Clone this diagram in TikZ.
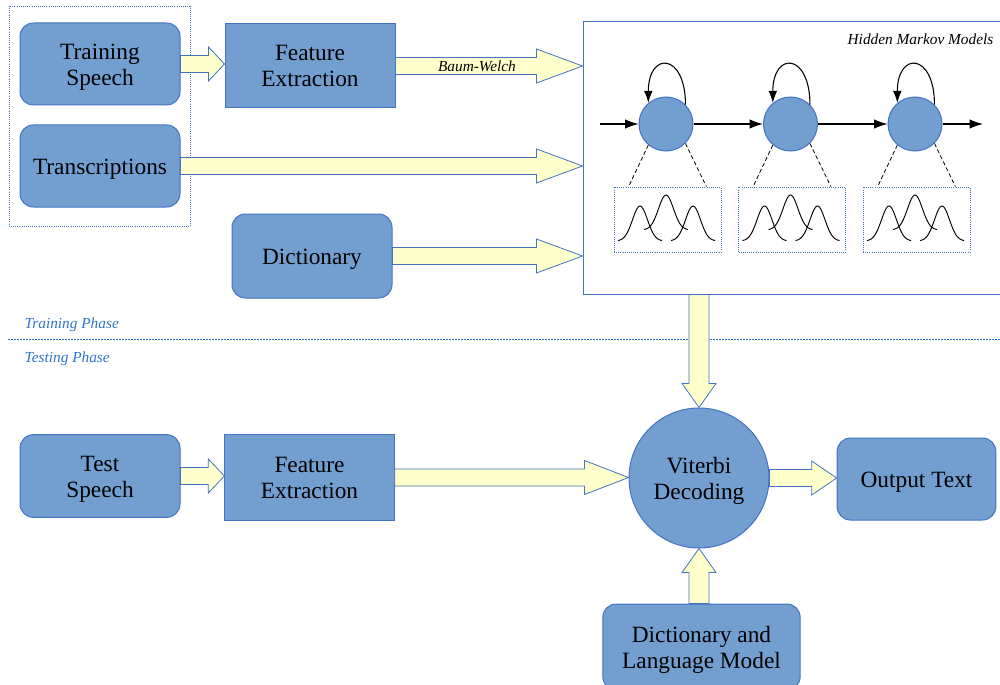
\documentclass[tikz,border=0pt]{standalone}
\usepackage{fontspec}
\setmainfont{Liberation Serif}
\usetikzlibrary{
    arrows.meta,
    calc,
    positioning
}
\definecolor{boxblue}{HTML}{729FCF}
\definecolor{lineblue}{HTML}{4472C4}
\definecolor{padyellow}{HTML}{FFFFCC}
\definecolor{phaseblue}{HTML}{2E75C6}

\tikzset{
    blk/.style={draw=lineblue, fill=boxblue, line width=0.75pt, align=center,
        inner sep=0pt, font=\fontsize{17.5}{19.5}\selectfont},
    rblk/.style={blk, rounded corners=10pt},
    fat/.style={draw=lineblue, fill=padyellow, line width=0.6pt},
    state/.style={circle, draw=lineblue, fill=boxblue, line width=0.75pt,
        minimum size=40.5pt, inner sep=0pt},
    gbox/.style={draw=lineblue, densely dotted, line width=0.6pt,
        minimum width=80.25pt, minimum height=48.75pt},
    note/.style={font=\fontsize{11.5}{13}\selectfont\itshape},
    stx/.style={-{Latex[length=10pt,width=7pt]}, line width=0.8pt}
}

% pushes a box text down a little
\newcommand{\up}{\rule{0pt}{16.5pt}}
% block arrows, head length in px
\newcommand{\fatx}[3]{%
    \draw[fat] let \p1=#1, \p2=#2 in
    (\x1,\y1+6.4pt) -- (\x2-#3*0.75pt,\y1+6.4pt) -- (\x2-#3*0.75pt,\y1+12.75pt)
    -- (\x2,\y1) -- (\x2-#3*0.75pt,\y1-12.75pt) -- (\x2-#3*0.75pt,\y1-6.4pt)
    -- (\x1,\y1-6.4pt) -- cycle;}
\newcommand{\faty}[3]{%
    \draw[fat] let \p1=#1, \p2=#2 in
    (\x1-7.5pt,\y1) -- (\x1-7.5pt,\y2+#3*0.75pt) -- (\x1-12.75pt,\y2+#3*0.75pt)
    -- (\x1,\y2) -- (\x1+12.75pt,\y2+#3*0.75pt) -- (\x1+7.5pt,\y2+#3*0.75pt)
    -- (\x1+7.5pt,\y1) -- cycle;}
% one bell of the mixture
\newcommand{\bell}[2]{%
    \draw[line width=0.7pt] plot[domain=(#1)-22:(#1)+22, samples=40, smooth]
    (\x,{(#2)-35*exp(-((\x-(#1))/7.5)^2/2)});}

\begin{document}
\begin{tikzpicture}[x=0.75pt, y=-0.75pt]
    \useasboundingbox (0,0) rectangle (1000,685);

    % training phase
    \draw[lineblue, densely dotted, line width=0.6pt] (9,6) rectangle (190,226);
    \node[rblk, minimum width=120pt, minimum height=61.5pt] (ts) at (100,64) {\up Training\\Speech};
    \node[rblk, minimum width=120pt, minimum height=61.5pt] (tr) at (100,166) {\up Transcriptions};
    \node[blk, minimum width=127.5pt, minimum height=63pt] (fe1) at (310,66) {Feature\\Extraction};
    \node[rblk, minimum width=120pt, minimum height=63pt] (dict) at (312,256) {\up Dictionary};

    \node[draw=lineblue, line width=0.75pt, minimum width=316.5pt, minimum height=204pt] (hmm) at (794,158) {};
    \node[note, anchor=east] (hmmt) at (998,39) {Hidden Markov Models};

    \node[state] (s1) at (666,124) {};
    \node[state] (s2) at (790.5,124) {};
    \node[state] (s3) at (915,124) {};
    \coordinate (si) at (600,124);
    \coordinate (so) at (983,124);
    \draw
    (si) edge[stx] (s1)
    (s1) edge[stx] (s2)
    (s2) edge[stx] (s3)
    (s3) edge[stx] (so);
    \foreach \s in {s1,s2,s3}
        \draw[-{Latex[length=9pt,width=6.5pt]}, line width=0.8pt]
        (\s.45) .. controls +(0,-52) and +(0,-52) .. (\s.130);

    \node[gbox] (g1) at (667.5,219.5) {};
    \node[gbox] (g2) at (792,219.5) {};
    \node[gbox] (g3) at (916.5,219.5) {};
    \foreach \s/\g in {s1/g1,s2/g2,s3/g3} {
        \draw[densely dashed, line width=0.6pt] (\s.-130) -- ($(\g.north west)+(15,0)$);
        \draw[densely dashed, line width=0.6pt] (\s.-45) -- ($(\g.north east)+(-15,0)$);
    }
    \foreach \dx in {0,124.5,249} {
        \bell{640+\dx}{241}
        \bell{666+\dx}{230}
        \bell{693+\dx}{241}
    }

    \fatx{(ts.east)}{(fe1.west |- ts.east)}{16}
    \fatx{(fe1.east)}{(fe1.east -| hmm.west)}{46}
    \node[note] (bw) at (477,66) {Baum-Welch};
    \fatx{(tr.east)}{(tr.east -| hmm.west)}{46}
    \fatx{(dict.east)}{(dict.east -| hmm.west)}{46}

    % phases
    \draw[phaseblue, dash pattern=on 1.5pt off 0.75pt, line width=0.6pt] (8,339) -- (1000,339);
    \node[note, text=phaseblue, anchor=west] (trp) at (20,325) {Training Phase};
    \node[note, text=phaseblue, anchor=west] (tep) at (20,359) {Testing Phase};

    % testing phase
    \node[rblk, minimum width=120pt, minimum height=62pt] (ts2) at (100,476) {\up Test\\Speech};
    \node[blk, minimum width=127pt, minimum height=65pt] (fe2) at (309.5,477.5) {Feature\\Extraction};
    \node[blk, circle, minimum size=105pt] (vit) at (699,478) {\up Viterbi\\Decoding};
    \node[rblk, minimum width=119pt, minimum height=61.5pt] (out) at (916.5,479) {\up Output Text};
    \node[rblk, minimum width=148pt, minimum height=64.5pt] (dlm) at (701.5,647) {\up Dictionary and\\Language Model};

    \faty{(vit.north |- hmm.south)}{(vit.north)}{24}
    \fatx{(ts2.east)}{(fe2.west |- ts2.east)}{16}
    \fatx{(fe2.east)}{(vit.west)}{44}
    \fatx{(vit.east)}{(out.west |- vit.east)}{25}
    \faty{(vit.south |- dlm.north)}{(vit.south)}{-24}
\end{tikzpicture}
\end{document}
